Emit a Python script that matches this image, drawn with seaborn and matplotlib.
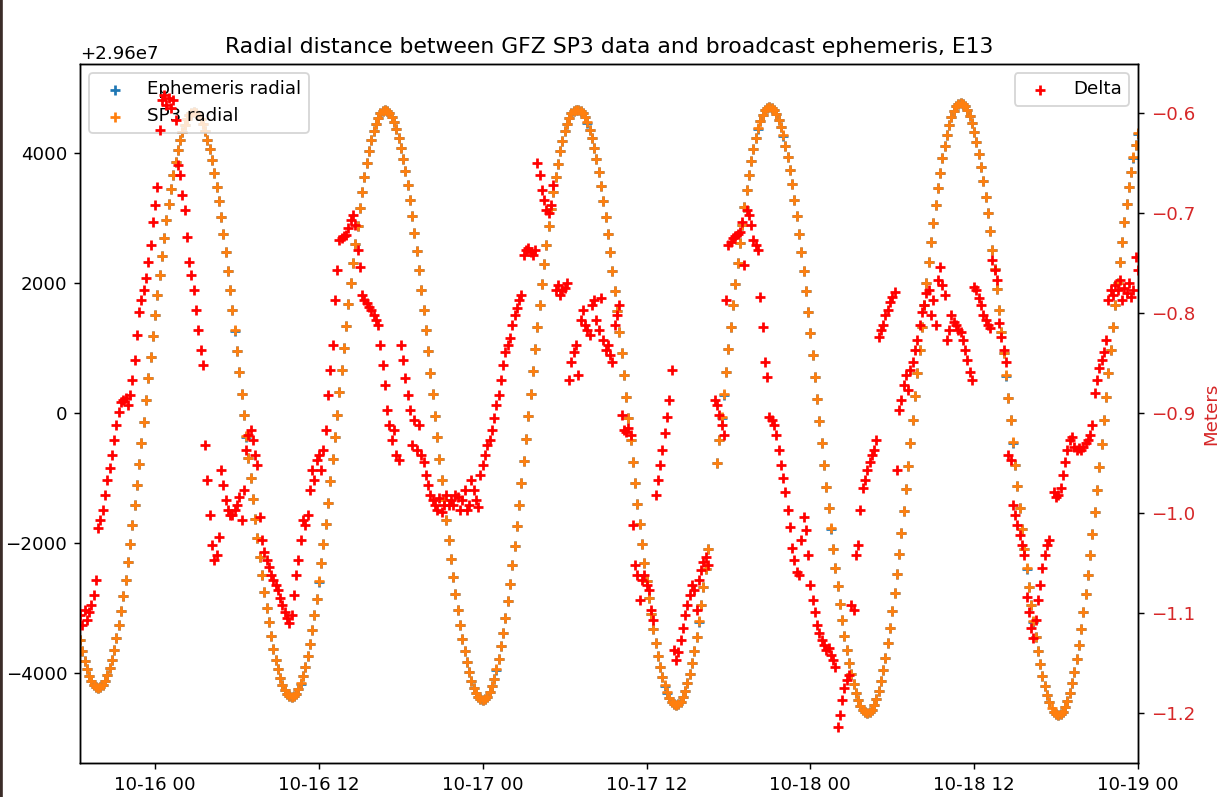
import numpy as np
import pandas as pd
import matplotlib
matplotlib.use("Agg")
import matplotlib.pyplot as plt
import matplotlib.dates as mdates
import seaborn as sns

# =========================
# data (10 min epochs from 2019-10-15 18:30)
# =========================
start_epoch = "2019-10-15 18:30"
radius_base_m = 29.6e6

# SP3 radial distance, metres above 2.96e7
sp3_offset_m = [
    -3498, -3666, -3814, -3941, -4045, -4127, -4186, -4221, -4233,
    -4221, -4183, -4122, -4036, -3926, -3794, -3639, -3463, -3266, -3049, -2815, -2564,
    -2298, -2016, -1723, -1420, -1107, -787, -460, -132, 200, 532, 861, 1187,
    1507, 1820, 2123, 2417, 2698, 2964, 3215, 3449, 3666, 3863, 4039, 4194,
    4326, 4436, 4522, 4583, 4621, 4633,
    4621, 4585, 4525, 4442, 4336, 4207, 4057, 3886, 3694, 3484, 3255, 3011,
    2750, 2477, 2189, 1891, 1584, 1269, 949, 624, 295, -33, -361, -687,
    -1007, -1322, -1629, -1927, -2215, -2488, -2749, -2993, -3222, -3432, -3624, -3795,
    -3945, -4074, -4180, -4263, -4323, -4359, -4371,
    -4358, -4318, -4252, -4161, -4044, -3902, -3737, -3549, -3339, -3109, -2859, -2592,
    -2309, -2012, -1701, -1382, -1051, -714, -373, -27, 320, 665, 1006, 1343,
    1674, 1993, 2304, 2601, 2884, 3151, 3401, 3631, 3841, 4029, 4194, 4336,
    4453, 4545, 4610, 4649, 4663,
    4651, 4615, 4554, 4471, 4363, 4234, 4082, 3909, 3716, 3504, 3274, 3028,
    2764, 2488, 2199, 1898, 1589, 1271, 947, 620, 288, -42, -374, -701,
    -1025, -1343, -1652, -1953, -2242, -2518, -2782, -3028, -3258, -3470, -3663, -3836,
    -3988, -4117, -4225, -4308, -4369, -4405, -4417,
    -4404, -4364, -4298, -4205, -4088, -3946, -3780, -3591, -3380, -3149, -2897, -2629,
    -2345, -2046, -1734, -1412, -1080, -741, -398, -51, 297, 644, 987, 1326,
    1658, 1980, 2292, 2591, 2875, 3143, 3395, 3626, 3837, 4026, 4192, 4334,
    4451, 4544, 4609, 4649, 4663,
    4663, 4651, 4614, 4553, 4469, 4361, 4230, 4077, 3903, 3708, 3495, 3262,
    3014, 2748, 2470, 2178, 1875, 1563, 1242, 916, 585, 251, -82, -416,
    -747, -1073, -1393, -1706, -2009, -2301, -2579, -2845, -3093, -3326, -3539, -3734,
    -3908, -4061, -4192, -4300, -4384, -4445, -4482, -4494,
    -4480, -4440, -4373, -4280, -4160, -4016, -3848, -3656, -3443, -3208, -2953, -2682,
    -2394, -2091, None, None, None, -768, -420, -69, 285, 636, 984, 1328,
    1664, 1990, 2307, 2610, 2898, 3169, 3424, 3659, 3872, 4064, 4232, 4377,
    4496, 4589, 4656, 4696, 4710,
    4698, 4661, 4598, 4512, 4402, 4269, 4113, 3936, 3737, 3520, 3283, 3030,
    2760, 2476, 2179, 1870, 1552, 1225, 893, 557, 216, -123, -464, -800,
    -1132, -1459, -1777, -2086, -2383, -2667, -2937, -3190, -3427, -3644, -3843, -4020,
    -4176, -4309, -4419, -4505, -4567, -4605, -4617,
    -4603, -4562, -4494, -4398, -4277, -4130, -3958, -3763, -3545, -3305, -3045, -2768,
    -2475, -2166, -1843, -1511, -1167, -817, -462, -103, 257, 616, 971, 1321,
    1665, 1997, 2320, 2629, 2922, 3199, 3459, 3699, 3917, 4112, 4284, 4431,
    4552, 4648, 4716, 4757, 4771,
    4759, 4721, 4658, 4571, 4460, 4326, 4168, 3989, 3789, 3569, 3330, 3075,
    2801, 2515, 2215, 1903, 1582, 1252, 917, 577, 233, -110, -454, -794,
    -1129, -1459, -1780, -2092, -2392, -2678, -2952, -3207, -3446, -3666, -3866, -4045,
    -4202, -4337, -4448, -4535, -4598, -4635, -4648,
    -4634, -4593, -4524, -4428, -4306, -4158, -3985, -3789, -3570, -3330, -3068, -2790,
    -2494, -2184, -1859, -1525, -1179, -827, -471, -110, 252, 613, 969, 1322,
    1667, 2001, 2326, 2636, 2932, 3210, 3471, 3712, 3931, 4128, 4300,
]

# broadcast ephemeris minus SP3, metres
delta_m = [
    -1.102, -1.112, -1.097, -1.107, -1.099, -1.092, -1.082, -1.067, -1.015, -1.007, -0.997, -0.982,
    -0.967, -0.955, -0.942, -0.927, -0.912, -0.899, -0.889, -0.887, -0.885, -0.892, -0.882, -0.867,
    -0.847, -0.822, -0.799, -0.787, -0.777, -0.765, -0.749, -0.732, -0.709, -0.692, -0.674, -0.617,
    -0.587, -0.582, -0.592, -0.585, -0.595, -0.587, -0.607, -0.652, -0.662, -0.682, -0.697, -0.724,
    -0.749, -0.762, -0.777, -0.797, -0.817, -0.837, -0.852, -0.932, -0.967, -1.002, -1.032, -1.047,
    -1.042, -1.024, -0.957, -0.972, -0.987, -0.997, -1.002, -1.002, -0.997, -0.992, -0.984, -1.007,
    -0.977, -0.937, -0.922, -0.917, -0.927, -0.942, -0.952, -1.004, -1.027, -1.039, -1.047, -1.054,
    -1.062, -1.067, -1.072, -1.077, -1.085, -1.092, -1.099, -1.105, -1.110, -1.102, -1.082, -1.062,
    -1.047, -1.027, -1.007, -1.012, -1.002, -0.977, -0.957, -0.967, -0.947, -0.942, -0.957, -0.937,
    -0.917, -0.882, -0.857, -0.832, -0.787, -0.757, -0.727, -0.725, -0.723, -0.722, -0.715, -0.707,
    -0.702, -0.712, -0.737, -0.754, -0.782, -0.787, -0.790, -0.794, -0.797, -0.802, -0.807, -0.812,
    -0.832, -0.852, -0.872, -0.897, -0.912, -0.927, -0.917, -0.942, -0.947, -0.832, -0.847, -0.865,
    -0.882, -0.897, -0.932, -0.907, -0.937, -0.912, -0.942, -0.949, -0.962, -0.972, -0.982, -0.987,
    -0.992, -0.997, -0.985, -0.999, -0.992, -0.982, -0.992, -0.987, -0.992, -0.982, -0.984, -0.997,
    -0.987, -0.977, -0.997, -0.992, -0.967, -0.977, -0.987, -0.994, -0.962, -0.952, -0.942, -0.932,
    -0.927, -0.917, -0.905, -0.892, -0.882, -0.867, -0.852, -0.839, -0.832, -0.825, -0.812, -0.802,
    -0.795, -0.787, -0.782, -0.742, -0.737, -0.735, -0.739, -0.742, -0.737, -0.650, -0.662, -0.677,
    -0.687, -0.697, -0.700, -0.692, -0.672, -0.777, -0.772, -0.782, -0.777, -0.775, -0.770, -0.867,
    -0.849, -0.839, -0.832, -0.862, -0.807, -0.797, -0.812, -0.817, -0.822, -0.792, -0.787, -0.807,
    -0.817, -0.785, -0.827, -0.837, -0.832, -0.842, -0.849, -0.812, -0.802, -0.792, -0.902, -0.917,
    -0.919, -0.915, -0.922, -1.012, -1.052, -1.062, -1.087, -1.067, -1.062, -1.072, -1.077, -1.097,
    -1.107, -0.982, -0.967, -0.952, -0.937, -0.920, -0.904, -0.887, -0.857, -1.137, -1.147, -1.139,
    -1.127, -1.115, -1.102, -1.092, -1.082, -1.072, -1.077, -1.097, -1.067, -1.057, -1.049, -1.044,
    -1.052, None, None, -0.887, -0.892, -0.902, -0.912, -0.922, -0.787, -0.732, -0.729, -0.725,
    -0.723, -0.721, -0.719, -0.709, -0.752, -0.697, -0.702, -0.712, -0.727, -0.732, -0.737, -0.784,
    -0.814, -0.849, -0.864, -0.904, -0.907, -0.912, -0.922, -0.937, -0.952, -0.965, -0.979, -0.997,
    -1.014, -1.035, -1.047, -1.059, -1.062, -1.027, -1.004, -1.017, -1.042, -1.072, -1.087, -1.099,
    -1.112, -1.120, -1.127, -1.132, -1.137, -1.135, -1.142, -1.147, -1.154, -1.214, -1.202, -1.187,
    -1.175, -1.167, -1.162, -1.092, -1.097, -1.042, -1.032, -0.997, -0.975, -0.967, -0.957, -0.949,
    -0.942, -0.937, -0.927, -0.824, -0.817, -0.812, -0.802, -0.797, -0.789, -0.784, -0.779, -0.957,
    -0.897, -0.887, -0.872, -0.862, -0.877, -0.857, -0.849, -0.837, -0.827, -0.812, -0.799, -0.792,
    -0.780, -0.777, -0.802, -0.787, -0.812, -0.767, -0.754, -0.772, -0.782, -0.827, -0.817, -0.802,
    -0.809, -0.812, -0.817, -0.819, -0.827, -0.837, -0.847, -0.859, -0.867, -0.774, -0.777, -0.785,
    -0.792, -0.802, -0.807, -0.812, -0.815, -0.747, -0.757, -0.767, -0.810, -0.824, -0.837, -0.849,
    -0.942, -0.947, -0.992, -1.002, -1.012, -1.022, -1.032, -1.042, -1.084, -1.099, -1.115, -1.125,
    -1.107, -1.087, -1.072, -1.055, -1.042, -1.032, -1.027, None, -0.979, -0.984, -0.982, -0.975,
    -0.962, -0.949, -0.937, -0.927, -0.924, -0.934, -0.937, -0.935, -0.937, -0.934, -0.930, -0.927,
    -0.922, -0.912, -0.880, -0.867, -0.855, -0.847, -0.839, -0.827, -0.787, -0.777, -0.782, -0.772,
    -0.777, -0.767, -0.787, -0.775, -0.780, -0.770, -0.784, -0.777, -0.744, -0.757,
]

times = pd.date_range(start_epoch, periods=len(sp3_offset_m), freq="10min")
df = pd.DataFrame({
    "time": times,
    "sp3": radius_base_m + np.array(sp3_offset_m, dtype=float),
    "delta": np.array(delta_m, dtype=float),
})
df["ephem"] = df["sp3"] + df["delta"]

# =========================
# plot
# =========================
DPI = 131
fig = plt.figure(figsize=(1226 / DPI, 797 / DPI), dpi=DPI)
ax = fig.add_axes([80 / 1226, 1 - 763 / 797, 1058 / 1226, 699 / 797])

sns.scatterplot(data=df, x="time", y="ephem", marker="+", color="tab:blue",
                s=36, linewidth=1.5, label="Ephemeris radial", ax=ax)
sns.scatterplot(data=df, x="time", y="sp3", marker="+", color="tab:orange",
                s=36, linewidth=1.5, label="SP3 radial", ax=ax)
ax.set_ylim(radius_base_m - 5385, radius_base_m + 5369)
ax.set_xlabel("")
ax.set_ylabel("")
ax.legend(loc="upper left")

ax2 = ax.twinx()
sns.scatterplot(data=df, x="time", y="delta", marker="+", color="red",
                s=36, linewidth=1.5, label="Delta", ax=ax2)
ax2.set_ylim(-1.25, -0.551)
ax2.set_ylabel("Meters", color="tab:red")
ax2.tick_params(axis="y", labelcolor="tab:red")
ax2.legend(loc="upper right")

ax.set_xlim(times[0], times[-1])
ax.xaxis.set_major_locator(mdates.HourLocator(byhour=[0, 12]))
ax.xaxis.set_major_formatter(mdates.DateFormatter("%m-%d %H"))
ax.set_title("Radial distance between GFZ SP3 data and broadcast ephemeris, E13")

# dark window edge on the left of the screenshot
fig.add_artist(plt.Line2D([0.0012, 0.0012], [0, 1], color="#3b2c28", lw=2,
                          transform=fig.transFigure))

fig.savefig("out.png", dpi=DPI)
